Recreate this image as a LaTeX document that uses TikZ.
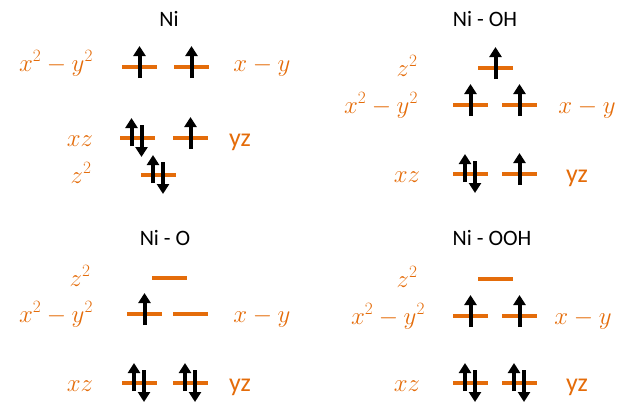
\documentclass[tikz,border=0pt]{standalone}
\usepackage{amsmath}
\usepackage{fontspec}
\setmainfont{Carlito}
\usetikzlibrary{arrows.meta}
\definecolor{orb}{RGB}{228,108,10}
\newcommand{\upsp}[1]{\draw[spin] ([yshift=-11pt]#1.center) -- ([yshift=21pt]#1.center);}
\newcommand{\pairsp}[1]{\draw[spin] ([xshift=-5.5pt,yshift=-8pt]#1.center) -- ([xshift=-5.5pt,yshift=20pt]#1.center);
\draw[spin] ([xshift=4.5pt,yshift=13pt]#1.center) -- ([xshift=4.5pt,yshift=-19pt]#1.center);}

\begin{document}
\begin{tikzpicture}[x=1pt,y=-1pt,
lvl/.style={fill=orb,minimum width=35pt,minimum height=4pt,inner sep=0pt},
lab/.style={text=orb,font=\fontsize{26}{28}\selectfont,anchor=base,inner sep=0pt},
sans/.style={text=orb,font=\fontsize{26}{28}\selectfont,anchor=base,inner sep=0pt},
ttl/.style={font=\fontsize{22}{24}\selectfont,anchor=base,inner sep=0pt},
spin/.style={line width=4pt,-{Triangle[width=12pt,length=10pt]}}]
\useasboundingbox (0,0) rectangle (620,405);
% Ni
\node[ttl] (t1) at (169,26) {Ni};
\node[lab] (a-l1) at (56,71) {$x^2-y^2$};
\node[lab] (a-l2) at (262,71) {$x-y$};
\node[lab] (a-l3) at (80,146) {$xz$};
\node[sans] (a-l4) at (240,146) {yz};
\node[lab] (a-l5) at (81,183) {$z^2$};
\node[lvl] (a1) at (139.5,67) {};
\node[lvl] (a2) at (191.5,67) {};
\node[lvl] (a3) at (137,138) {};
\node[lvl] (a4) at (190.5,138) {};
\node[lvl] (a5) at (158.5,175) {};
\upsp{a1} \upsp{a2} \pairsp{a3} \upsp{a4} \pairsp{a5}
% Ni - OH
\node[ttl] (t2) at (485,26) {Ni - OH};
\node[lab] (b-l1) at (407,76) {$z^2$};
\node[lab] (b-l2) at (381,113) {$x^2-y^2$};
\node[lab] (b-l3) at (587,113) {$x-y$};
\node[lab] (b-l4) at (407,182) {$xz$};
\node[sans] (b-l5) at (577,182) {yz};
\node[lvl] (b1) at (495.5,68) {};
\node[lvl] (b2) at (470.5,105) {};
\node[lvl] (b3) at (519.5,105) {};
\node[lvl] (b4) at (470.5,174) {};
\node[lvl] (b5) at (519.5,174) {};
\upsp{b1} \upsp{b2} \upsp{b3} \pairsp{b4} \upsp{b5}
% Ni - O
\node[ttl] (t3) at (165,245) {Ni - O};
\node[lab] (c-l1) at (80,286) {$z^2$};
\node[lab] (c-l2) at (56,322) {$x^2-y^2$};
\node[lab] (c-l3) at (262,322) {$x-y$};
\node[lab] (c-l4) at (80,391) {$xz$};
\node[sans] (c-l5) at (240,391) {yz};
\node[lvl] (c1) at (169,278) {};
\node[lvl] (c2) at (144.5,314) {};
\node[lvl] (c3) at (190.5,314) {};
\node[lvl] (c4) at (139.5,383) {};
\node[lvl] (c5) at (190.5,383) {};
\upsp{c2} \pairsp{c4} \pairsp{c5}
% Ni - OOH
\node[ttl] (t4) at (492,245) {Ni - OOH};
\node[lab] (d-l1) at (407,287) {$z^2$};
\node[lab] (d-l2) at (388,324) {$x^2-y^2$};
\node[lab] (d-l3) at (583,324) {$x-y$};
\node[lab] (d-l4) at (407,391) {$xz$};
\node[sans] (d-l5) at (577,391) {yz};
\node[lvl] (d1) at (495.5,279) {};
\node[lvl] (d2) at (470.5,316) {};
\node[lvl] (d3) at (519.5,316) {};
\node[lvl] (d4) at (470.5,383) {};
\node[lvl] (d5) at (519.5,383) {};
\upsp{d2} \upsp{d3} \pairsp{d4} \pairsp{d5}
\end{tikzpicture}
\end{document}
